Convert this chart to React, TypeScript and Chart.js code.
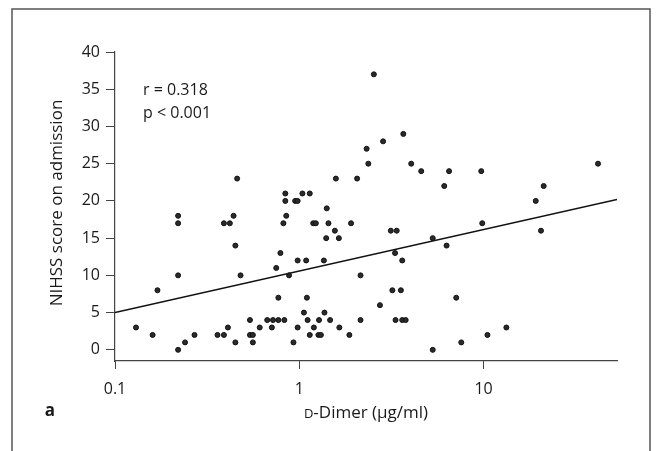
import React, { useEffect, useRef } from "react";
import { Chart, registerables } from "chart.js";

Chart.register(...registerables);

// D-Dimer (µg/ml) values
const dimerValues: number[] = [
  0.13, 0.16, 0.17, 0.22, 0.22, 0.22, 0.22, 0.24, 0.27, 0.36, 0.39, 0.41, 0.39, 0.42, 0.44, 0.45, 0.46, 0.48, 0.45,
  0.54, 0.54, 0.56, 0.56, 0.61, 0.67, 0.71, 0.72, 0.77, 0.83, 0.75, 0.77, 0.79, 0.82, 0.84, 0.84, 0.85, 0.88, 0.93, 0.95, 0.98, 0.98, 0.98,
  1.04, 1.14, 1.09, 1.06, 1.1, 1.11, 1.14, 1.2, 1.19, 1.23, 1.28, 1.27, 1.31, 1.36, 1.37, 1.4, 1.41, 1.44, 1.47, 1.56, 1.58, 1.64, 1.65, 1.87, 1.91, 2.06, 2.15, 2.15, 2.32, 2.37, 2.54, 2.74, 2.85,
  3.14, 3.38, 3.31, 3.62, 3.2, 3.56, 3.33, 3.62, 3.78, 3.67, 4.05, 4.59, 5.3, 5.3, 6.12, 6.3, 6.5, 7.11, 7.57, 9.72, 9.84, 10.5, 13.3, 19.2, 20.5, 21.2, 41.8,
];

// NIHSS score on admission
const nihssValues: number[] = [
  3, 2, 8, 18, 17, 10, 0, 1, 2, 2, 2, 3, 17, 17, 18, 14, 23, 10, 1,
  4, 2, 2, 1, 3, 4, 3, 4, 4, 4, 11, 7, 13, 17, 21, 20, 18, 10, 1, 20, 20, 12, 3,
  21, 21, 12, 5, 7, 4, 2, 3, 17, 17, 4, 2, 2, 12, 5, 15, 19, 17, 4, 16, 23, 15, 3, 2, 17, 23, 10, 4, 27, 25, 37, 6, 28,
  16, 16, 13, 12, 8, 8, 4, 4, 4, 29, 25, 24, 15, 0, 22, 14, 24, 7, 1, 24, 17, 2, 3, 20, 16, 22, 25,
];

// regression line end points
const regressionX: number[] = [0.1, 53];
const regressionY: number[] = [5.0, 20.2];

const xTickValues: number[] = [0.1, 1, 10];
const xTickLabels: string[] = ["0.1", "1", "10"];

const FONT = "'Open Sans', 'Noto Sans', sans-serif";
const TEXT = "#1a1a1a";

const overlayPlugin = {
  id: "overlay",
  beforeDraw(chart: any) {
    const ctx = chart.ctx;
    ctx.save();
    ctx.strokeStyle = "#555";
    ctx.lineWidth = 1.5;
    ctx.beginPath();
    ctx.moveTo(12, 451);
    ctx.lineTo(12, 9);
    ctx.lineTo(650, 9);
    ctx.lineTo(650, 451);
    ctx.stroke();
    ctx.restore();
  },
  afterDraw(chart: any) {
    const ctx = chart.ctx;
    const area = chart.chartArea;
    ctx.save();
    ctx.fillStyle = TEXT;
    ctx.textBaseline = "middle";
    ctx.textAlign = "left";
    ctx.font = `16px ${FONT}`;
    ctx.fillText("r = 0.318", 143, 90);
    ctx.fillText("p < 0.001", 143, 113);

    // y title
    ctx.save();
    ctx.translate(57, 203);
    ctx.rotate(-Math.PI / 2);
    ctx.textAlign = "center";
    ctx.font = `17px ${FONT}`;
    ctx.fillText("NIHSS score on admission", 0, 0);
    ctx.restore();

    // x title with small-cap D
    const cx = (area.left + area.right) / 2;
    const y = 412;
    const small = `13px ${FONT}`;
    const big = `17px ${FONT}`;
    ctx.font = small;
    const wD = ctx.measureText("D").width;
    ctx.font = big;
    const rest = "-Dimer (\u00b5g/ml)";
    const wR = ctx.measureText(rest).width;
    const start = cx - (wD + wR) / 2;
    ctx.textAlign = "left";
    ctx.textBaseline = "alphabetic";
    ctx.font = small;
    ctx.fillText("D", start, y + 6);
    ctx.font = big;
    ctx.fillText(rest, start + wD, y + 6);

    // panel label
    ctx.font = `bold 17px ${FONT}`;
    ctx.textAlign = "center";
    ctx.textBaseline = "middle";
    ctx.fillText("a", 50, 411);
    ctx.restore();
  },
};

export default function App() {
  const ref = useRef<HTMLCanvasElement | null>(null);
  useEffect(() => {
    document.body.style.margin = "0";
    const points = dimerValues.map((x, i) => ({ x, y: nihssValues[i] }));
    const line = regressionX.map((x, i) => ({ x, y: regressionY[i] }));
    const chart = new Chart(ref.current as HTMLCanvasElement, {
      type: "scatter",
      data: {
        datasets: [
          {
            type: "scatter",
            data: points,
            pointRadius: 2.5,
            pointBackgroundColor: "#2a2a2a",
            pointBorderColor: "#111",
            pointBorderWidth: 1,
          } as any,
          {
            type: "line",
            data: line,
            showLine: true,
            pointRadius: 0,
            borderColor: "#111",
            borderWidth: 1.5,
            fill: false,
          } as any,
        ],
      },
      options: {
        responsive: false,
        animation: false,
        devicePixelRatio: 1,
        layout: { padding: { left: 0, top: 52, right: 39, bottom: 0 } },
        plugins: { legend: { display: false }, tooltip: { enabled: false } },
        scales: {
          x: {
            type: "logarithmic",
            min: 0.1,
            max: 53,
            afterFit: (s: any) => {
              s.height = 90;
            },
            afterBuildTicks: (s: any) => {
              s.ticks = xTickValues.map((v) => ({ value: v }));
            },
            ticks: {
              color: TEXT,
              font: { family: FONT, size: 16 },
              padding: 11,
              maxRotation: 0,
              autoSkip: false,
              callback: (v: any) => {
                const i = xTickValues.indexOf(Number(v));
                return i >= 0 ? xTickLabels[i] : "";
              },
            },
            grid: { drawOnChartArea: false, drawTicks: true, tickLength: 8, color: "#444" },
            border: { display: true, color: "#444", width: 1.2 },
          },
          y: {
            type: "linear",
            min: -1.5,
            max: 40,
            afterFit: (s: any) => {
              s.width = 115;
            },
            ticks: {
              stepSize: 5,
              includeBounds: false,
              color: TEXT,
              font: { family: FONT, size: 16 },
              padding: 6,
            },
            grid: { drawOnChartArea: false, drawTicks: true, tickLength: 9, color: "#444" },
            border: { display: true, color: "#444", width: 1.2 },
          },
        },
      },
      plugins: [overlayPlugin],
    });
    return () => chart.destroy();
  }, []);
  return (
    <div style={{ position: "absolute", left: 0, top: 0, width: 656, height: 451, background: "#fff" }}>
      <canvas ref={ref} width={656} height={451} style={{ width: 656, height: 451, display: "block" }} />
    </div>
  );
}
